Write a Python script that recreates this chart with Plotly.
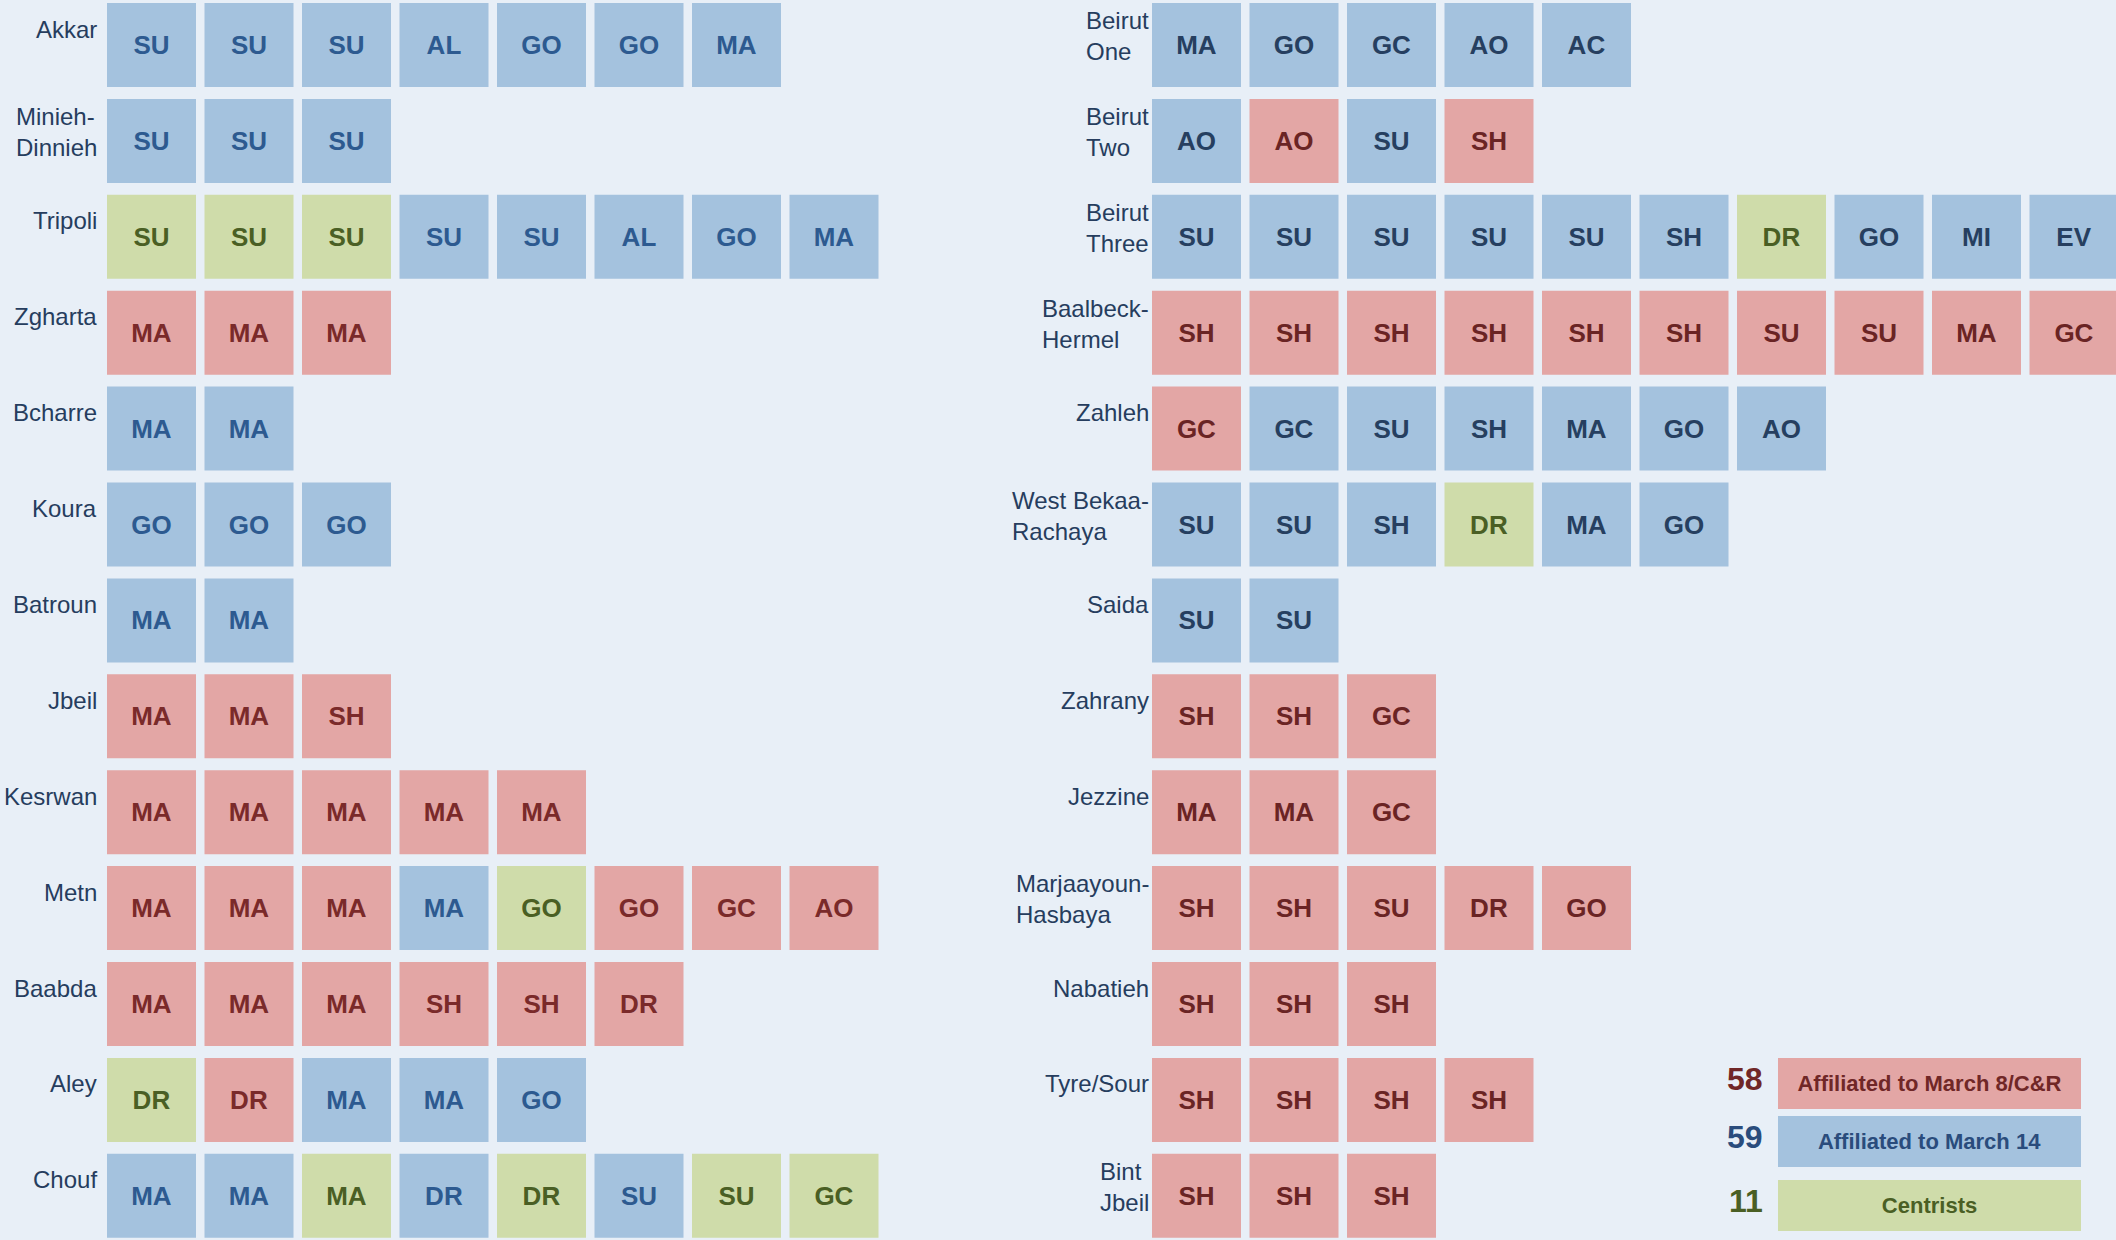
import plotly.graph_objects as go

# ---------------- data ----------------
left_districts = ["Akkar", "Minieh-<br>Dinnieh", "Tripoli", "Zgharta", "Bcharre", "Koura",
                  "Batroun", "Jbeil", "Kesrwan", "Metn", "Baabda", "Aley", "Chouf"]
left_seats = [
    ["SU", "SU", "SU", "AL", "GO", "GO", "MA"],
    ["SU", "SU", "SU"],
    ["SU", "SU", "SU", "SU", "SU", "AL", "GO", "MA"],
    ["MA", "MA", "MA"],
    ["MA", "MA"],
    ["GO", "GO", "GO"],
    ["MA", "MA"],
    ["MA", "MA", "SH"],
    ["MA", "MA", "MA", "MA", "MA"],
    ["MA", "MA", "MA", "MA", "GO", "GO", "GC", "AO"],
    ["MA", "MA", "MA", "SH", "SH", "DR"],
    ["DR", "DR", "MA", "MA", "GO"],
    ["MA", "MA", "MA", "DR", "DR", "SU", "SU", "GC"],
]
# R = March 8/C&R, B = March 14, G = Centrist
left_blocs = ["BBBBBBB", "BBB", "GGGBBBBB", "RRR", "BB", "BBB", "BB", "RRR", "RRRRR",
              "RRRBGRRR", "RRRRRR", "GRBBB", "BBGBGBGG"]

right_districts = ["Beirut<br>One", "Beirut<br>Two", "Beirut<br>Three", "Baalbeck-<br>Hermel",
                   "Zahleh", "West Bekaa-<br>Rachaya", "Saida", "Zahrany", "Jezzine",
                   "Marjaayoun-<br>Hasbaya", "Nabatieh", "Tyre/Sour", "Bint<br>Jbeil"]
right_seats = [
    ["MA", "GO", "GC", "AO", "AC"],
    ["AO", "AO", "SU", "SH"],
    ["SU", "SU", "SU", "SU", "SU", "SH", "DR", "GO", "MI", "EV"],
    ["SH", "SH", "SH", "SH", "SH", "SH", "SU", "SU", "MA", "GC"],
    ["GC", "GC", "SU", "SH", "MA", "GO", "AO"],
    ["SU", "SU", "SH", "DR", "MA", "GO"],
    ["SU", "SU"],
    ["SH", "SH", "GC"],
    ["MA", "MA", "GC"],
    ["SH", "SH", "SU", "DR", "GO"],
    ["SH", "SH", "SH"],
    ["SH", "SH", "SH", "SH"],
    ["SH", "SH", "SH"],
]
right_blocs = ["BBBBB", "BRBR", "BBBBBBGBBB", "RRRRRRRRRR", "RBBBBBB", "BBBGBB", "BB",
               "RRR", "RRR", "RRRRR", "RRR", "RRRR", "RRR"]

bloc_order = ["R", "B", "G"]
bloc_labels = ["Affiliated to March 8/C&R", "Affiliated to March 14", "Centrists"]

# ---------------- style / layout ----------------
W, H = 2116, 1240
BG = "#e8eff7"
FILL = {"R": "#e3a6a5", "B": "#a4c2de", "G": "#cfdcaa"}
INK = {"R": "#702727", "B": "#2a4c7c", "G": "#4a5f24"}
INK_LEFT = {"R": "#7a2a2a", "B": "#2d5a90", "G": "#4a5f24"}
INK_RIGHT = {"R": "#6a2424", "B": "#263f60", "G": "#4a5f24"}
LABEL_INK = "#263d5e"
FONT = "Liberation Sans, Arial, Helvetica, sans-serif"

ROW_TOP0, ROW_PITCH = 3, 95.9
TILE_W, TILE_H = 89, 84
COL_PITCH = 97.5
COLUMNS = [
    (left_districts, left_seats, left_blocs, 107, 99, INK_LEFT),
    (right_districts, right_seats, right_blocs, 1152, 1151, INK_RIGHT),
]

xs, bases, fills, inks, texts = [], [], [], [], []
annotations = []
for districts, seats, blocs, x0, label_x, ink in COLUMNS:
    for i, (name, row, brow) in enumerate(zip(districts, seats, blocs)):
        top = ROW_TOP0 + i * ROW_PITCH
        for j, (code, b) in enumerate(zip(row, brow)):
            xs.append(x0 + TILE_W / 2 + j * COL_PITCH)
            bases.append(top)
            fills.append(FILL[b])
            inks.append(ink[b])
            texts.append(code)
        dy = 9 if "<br>" in name else 16
        annotations.append(dict(
            x=label_x, y=top + TILE_H / 2 - dy, xref="x", yref="y",
            text=name, showarrow=False, xanchor="right", yanchor="middle",
            align="left", font=dict(family=FONT, size=24, color=LABEL_INK)))

fig = go.Figure()
fig.add_trace(go.Bar(
    x=xs, y=[TILE_H] * len(xs), base=bases, width=TILE_W,
    marker=dict(color=fills, line=dict(width=0)),
    text=texts, textposition="inside", insidetextanchor="middle", textangle=0,
    textfont=dict(family=FONT, size=26, color=inks, weight="bold"),
    hoverinfo="skip", showlegend=False,
))

# legend boxes with counts derived from data
all_blocs = "".join(left_blocs) + "".join(right_blocs)
counts = [all_blocs.count(b) for b in bloc_order]
LEG_X0, LEG_W, LEG_H = 1778, 303, 51
leg_tops = [1058, 1116, 1180]
fig.add_trace(go.Bar(
    x=[LEG_X0 + LEG_W / 2] * 3, y=[LEG_H] * 3, base=leg_tops, width=LEG_W,
    marker=dict(color=[FILL[b] for b in bloc_order], line=dict(width=0)),
    text=bloc_labels, textposition="inside", insidetextanchor="middle", textangle=0,
    textfont=dict(family=FONT, size=22, color=[INK[b] for b in bloc_order], weight="bold"),
    hoverinfo="skip", showlegend=False,
))
for b, c, t in zip(bloc_order, counts, leg_tops):
    annotations.append(dict(
        x=LEG_X0 - 13, y=t + LEG_H / 2 - 5, xref="x", yref="y", text=f"<b>{c}</b>",
        showarrow=False, xanchor="right", yanchor="middle",
        font=dict(family=FONT, size=32, color=INK[b])))

fig.update_layout(
    width=W, height=H, margin=dict(l=0, r=0, t=0, b=0),
    paper_bgcolor=BG, plot_bgcolor=BG, barmode="overlay",
    xaxis=dict(range=[0, W], visible=False, fixedrange=True),
    yaxis=dict(range=[H, 0], visible=False, fixedrange=True),
    annotations=annotations, hovermode=False,
)
fig.write_html(
    "out.html",
    config={"displayModeBar": False},
    post_script="document.body.style.margin='0';document.body.style.overflow='hidden';",
)
